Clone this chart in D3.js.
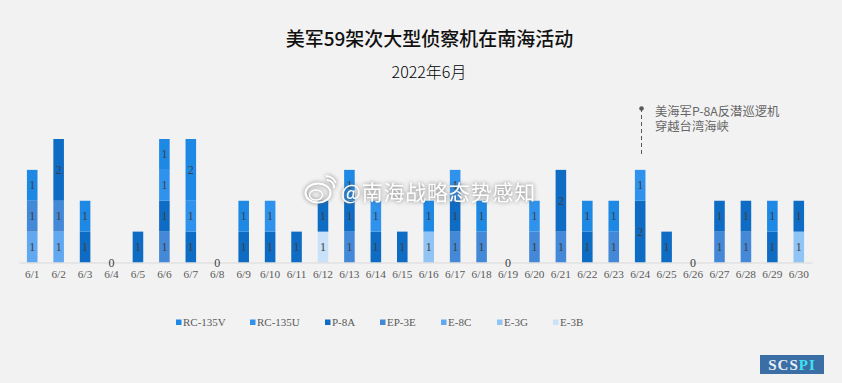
<!DOCTYPE html>
<html>
<head>
<meta charset="utf-8">
<script src="https://cdn.jsdelivr.net/npm/d3@7"></script>
<style>
  html, body { margin: 0; padding: 0; background: #f2f2f2; }
  svg { display: block; }
</style>
</head>
<body>
<div id="chart"></div>
<script>
// days of June 2022
const days = ['6/1','6/2','6/3','6/4','6/5','6/6','6/7','6/8','6/9','6/10','6/11','6/12','6/13','6/14','6/15',
  '6/16','6/17','6/18','6/19','6/20','6/21','6/22','6/23','6/24','6/25','6/26','6/27','6/28','6/29','6/30'];

// one list per aircraft type, one value per day
const rc135v = [1,0,1,0,0,1,2,0,1,0,0,0,1,0,0,1,0,1,0,0,0,1,1,0,0,0,0,0,1,0];
const rc135u = [0,0,0,0,0,1,1,0,0,1,0,0,0,1,0,0,1,0,0,1,0,0,0,1,0,0,0,0,0,0];
const p8a    = [0,2,1,0,1,1,1,0,1,1,1,1,1,1,1,0,1,0,0,0,2,1,0,2,1,0,1,1,1,1];
const ep3e   = [1,1,0,0,0,1,0,0,0,0,0,0,1,0,0,0,1,1,0,1,1,0,1,0,0,0,1,1,0,0];
const e8c    = [1,1,0,0,0,0,0,0,0,0,0,0,0,0,0,0,0,0,0,0,0,0,0,0,0,0,0,0,0,0];
const e3g    = [0,0,0,0,0,0,0,0,0,0,0,0,0,0,0,1,0,0,0,0,0,0,0,0,0,0,0,0,0,1];
const e3b    = [0,0,0,0,0,0,0,0,0,0,0,1,0,0,0,0,0,0,0,0,0,0,0,0,0,0,0,0,0,0];

const legendNames = ['RC-135V','RC-135U','P-8A','EP-3E','E-8C','E-3G','E-3B'];
const colors = ['#1e88e5','#2f93ee','#0e6cc4','#4488d8','#62a8f0','#90c4f5','#c9e1f9'];
const seriesValues = [rc135v, rc135u, p8a, ep3e, e8c, e3g, e3b];

const width = 842, height = 383;
const sans = '"Noto Sans CJK SC", sans-serif';
const serif = '"Liberation Serif", serif';

const svg = d3.select('#chart').append('svg').attr('width', width).attr('height', height);
svg.append('rect').attr('width', width).attr('height', height).attr('fill', '#f2f2f2');

// titles
svg.append('text').attr('x', 429.5).attr('y', 46).attr('text-anchor', 'middle')
  .attr('font-family', sans).attr('font-size', 19).attr('font-weight', 500).attr('fill', '#111')
  .text('美军59架次大型侦察机在南海活动');
svg.append('text').attr('x', 429).attr('y', 78).attr('text-anchor', 'middle')
  .attr('font-family', sans).attr('font-size', 16).attr('font-weight', 300).attr('fill', '#000')
  .text('2022年6月');

// scales
const x = d3.scaleBand().domain(days).range([19, 812]).paddingInner(0.6).paddingOuter(0.3);
const y = d3.scaleLinear().domain([0, 4]).range([262.5, 139]);

// table for d3.stack, first series is the top of the stack
const rows = days.map(function(d, i) {
  const row = { day: d };
  legendNames.forEach(function(n, j) { row[n] = seriesValues[j][i]; });
  return row;
});
const stacked = d3.stack().keys(legendNames.slice().reverse())(rows);
const colorScale = d3.scaleOrdinal().domain(legendNames).range(colors);

const layers = svg.selectAll('.layer').data(stacked).enter().append('g').attr('class', 'layer');
layers.selectAll('rect')
  .data(function(s) { return s.filter(function(d) { return d[1] > d[0]; }).map(function(d) { return { d: d, key: s.key }; }); })
  .enter().append('rect')
  .attr('x', function(o) { return x(o.d.data.day); })
  .attr('y', function(o) { return y(o.d[1]); })
  .attr('width', x.bandwidth())
  .attr('height', function(o) { return y(o.d[0]) - y(o.d[1]); })
  .attr('fill', function(o) { return colorScale(o.key); });

// x axis
const axis = svg.append('g').attr('transform', 'translate(0,262.5)').call(d3.axisBottom(x).tickSize(0).tickPadding(7));
axis.select('.domain').attr('stroke', '#d9d9d9');
axis.selectAll('text').attr('font-family', serif).attr('font-size', 11.3).attr('fill', '#595959');

// value labels
layers.selectAll('.val')
  .data(function(s) { return s.filter(function(d) { return d[1] > d[0]; }); })
  .enter().append('text')
  .attr('class', 'val')
  .attr('x', function(d) { return x(d.data.day) + x.bandwidth() / 2; })
  .attr('y', function(d) { return y((d[0] + d[1]) / 2) + 4; })
  .attr('text-anchor', 'middle')
  .attr('font-family', serif).attr('font-size', 12).attr('fill', '#404040')
  .text(function(d) { return d[1] - d[0]; });

// days with no flights still get a 0
const totals = days.map(function(d, i) { return d3.sum(seriesValues, function(s) { return s[i]; }); });
svg.selectAll('.zero')
  .data(days.filter(function(d, i) { return totals[i] === 0; }))
  .enter().append('text')
  .attr('class', 'zero')
  .attr('x', function(d) { return x(d) + x.bandwidth() / 2; })
  .attr('y', y(0) + 4)
  .attr('text-anchor', 'middle')
  .attr('font-family', serif).attr('font-size', 12).attr('fill', '#404040')
  .text(0);

// legend, item positions as laid out in the reference
const legendLeft = [176, 250, 325, 380, 441, 497, 553];
legendNames.forEach(function(n, i) {
  const g = svg.append('g').attr('transform', 'translate(' + legendLeft[i] + ',319.5)');
  g.append('rect').attr('width', 5.5).attr('height', 5.5).attr('fill', colorScale(n));
  g.append('text').attr('x', 7).attr('y', 6.5)
    .attr('font-family', serif).attr('font-size', 11).attr('fill', '#595959').text(n);
});

// annotation
svg.append('line').attr('x1', 641.5).attr('x2', 641.5).attr('y1', 108).attr('y2', 156)
  .attr('stroke', '#595959').attr('stroke-width', 1).attr('stroke-dasharray', '4 3');
svg.append('circle').attr('cx', 641.5).attr('cy', 108.5).attr('r', 2.3).attr('fill', '#595959');
svg.append('text').attr('x', 655).attr('y', 116).attr('font-family', sans).attr('font-size', 12.3).attr('fill', '#666')
  .text('美海军P-8A反潜巡逻机');
svg.append('text').attr('x', 655).attr('y', 131).attr('font-family', sans).attr('font-size', 12.3).attr('fill', '#666')
  .text('穿越台湾海峡');

// watermark
const mark = svg.append('g').style('filter', 'drop-shadow(0 0 2px rgba(90,90,90,0.8))');
mark.append('text').attr('x', 341).attr('y', 200)
  .attr('font-family', sans).attr('font-size', 21).attr('letter-spacing', 0.8).attr('fill', '#fff')
  .text('@南海战略态势感知');
mark.append('ellipse').attr('cx', 318).attr('cy', 193).attr('rx', 12.5).attr('ry', 9.5)
  .attr('fill', 'none').attr('stroke', '#fff').attr('stroke-width', 2);
mark.append('ellipse').attr('cx', 316).attr('cy', 195).attr('rx', 6.5).attr('ry', 5)
  .attr('fill', 'none').attr('stroke', '#fff').attr('stroke-width', 1.5);
mark.append('path').attr('d', 'M327 180 a7 7 0 0 1 7 8 M326 176 a12 12 0 0 1 10 7')
  .attr('fill', 'none').attr('stroke', '#fff').attr('stroke-width', 2);

// logo, bottom right
svg.append('rect').attr('x', 760).attr('y', 355).attr('width', 64).attr('height', 19).attr('fill', '#3b6ea5');
const logo = svg.append('text').attr('x', 792).attr('y', 369.5).attr('text-anchor', 'middle')
  .attr('font-family', serif).attr('font-size', 15).attr('font-weight', 700).attr('letter-spacing', 1);
logo.append('tspan').attr('fill', '#e8f0f6').text('SCS');
logo.append('tspan').attr('fill', '#3fe3f0').text('PI');
</script>
</body>
</html>
